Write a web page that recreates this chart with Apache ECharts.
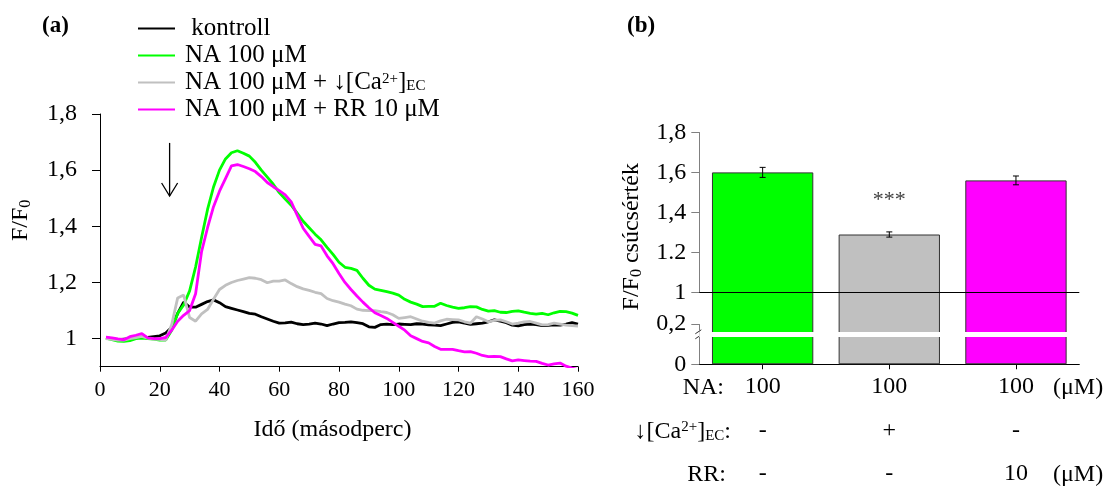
<!DOCTYPE html>
<html><head><meta charset="utf-8">
<script src="https://cdn.jsdelivr.net/npm/echarts@6/dist/echarts.min.js"></script>
<style>html,body{margin:0;padding:0;background:#fff}#c{width:1108px;height:486px}</style>
</head><body><div id="c"></div>
<script>
// ---------- data (panel a) ----------
const times = [2,4,6,8,10,12,14,16,18,20,22,24,26,28,30,32,34,36,38,40,42,44,46,48,50,52,54,56,58,60,62,64,66,68,70,72,74,76,78,80,82,84,86,88,90,92,94,96,98,100,102,104,106,108,110,112,114,116,118,120,122,124,126,128,130,132,134,136,138,140,142,144,146,148,150,152,154,156,158,160];
const kontroll = [1.003,1.0,0.996,0.998,1.0,1.003,1.005,1.004,1.007,1.01,1.02,1.04,1.09,1.13,1.112,1.112,1.122,1.132,1.138,1.128,1.114,1.108,1.102,1.096,1.09,1.087,1.078,1.07,1.062,1.055,1.056,1.059,1.053,1.05,1.052,1.055,1.052,1.046,1.052,1.057,1.058,1.06,1.057,1.053,1.042,1.04,1.05,1.052,1.05,1.052,1.051,1.05,1.053,1.052,1.049,1.048,1.046,1.052,1.058,1.06,1.055,1.051,1.053,1.055,1.06,1.067,1.062,1.057,1.048,1.045,1.05,1.052,1.05,1.046,1.047,1.049,1.048,1.052,1.057,1.052];
const na100 = [1.002,0.996,0.991,0.99,0.993,1.0,1.002,1.0,0.998,0.995,0.995,1.03,1.09,1.12,1.17,1.255,1.36,1.46,1.54,1.6,1.64,1.662,1.669,1.66,1.65,1.628,1.6,1.575,1.55,1.52,1.497,1.475,1.447,1.418,1.395,1.372,1.352,1.325,1.3,1.272,1.254,1.25,1.243,1.215,1.19,1.176,1.172,1.167,1.162,1.155,1.14,1.13,1.123,1.114,1.115,1.115,1.126,1.118,1.112,1.108,1.11,1.114,1.113,1.104,1.098,1.1,1.094,1.093,1.097,1.099,1.094,1.09,1.087,1.09,1.085,1.092,1.097,1.096,1.091,1.083];
const naLowCa = [1.0,0.997,0.995,0.995,1.0,1.004,1.008,1.002,0.998,0.997,0.995,1.05,1.145,1.155,1.075,1.062,1.088,1.104,1.14,1.175,1.19,1.2,1.207,1.212,1.217,1.215,1.21,1.199,1.205,1.205,1.209,1.196,1.185,1.177,1.172,1.165,1.16,1.143,1.135,1.13,1.123,1.117,1.105,1.101,1.1,1.1,1.096,1.093,1.085,1.072,1.075,1.078,1.07,1.062,1.058,1.055,1.063,1.069,1.068,1.067,1.06,1.055,1.078,1.07,1.06,1.065,1.067,1.06,1.052,1.055,1.06,1.061,1.055,1.049,1.05,1.055,1.052,1.048,1.046,1.045];
const naRR = [1.005,1.003,0.999,0.996,1.007,1.012,1.018,1.003,1.0,1.0,1.004,1.03,1.062,1.083,1.1,1.16,1.31,1.395,1.47,1.525,1.57,1.615,1.62,1.613,1.605,1.595,1.577,1.556,1.541,1.527,1.512,1.487,1.44,1.393,1.364,1.336,1.33,1.295,1.267,1.232,1.2,1.175,1.152,1.13,1.11,1.092,1.082,1.072,1.058,1.044,1.03,1.01,1.0,0.99,0.985,0.972,0.962,0.962,0.962,0.957,0.953,0.954,0.948,0.94,0.936,0.937,0.936,0.928,0.921,0.924,0.922,0.92,0.919,0.912,0.906,0.91,0.913,0.902,0.895,0.89];
const seriesNames = ['kontroll','NA 100 μM','NA 100 μM + ↓[Ca2+]EC','NA 100 μM + RR 10 μM'];
const leftYTicks = [1, 1.2, 1.4, 1.6, 1.8];
const arrowT = [23.3], arrowFrom = [1.697], arrowTo = [1.508];

// ---------- data (panel b) ----------
const naRow = ['100','100','100'];
const caRow = ['-','+','-'];
const rrRow = ['-','-','10'];
const peakMeans = [1.60, 1.29, 1.56];
const peakErrs = [0.025, 0.013, 0.022];
const sigMarks = ['', '***', ''];
const rightTickValues = [0, 0.2, 1, 1.2, 1.4, 1.6, 1.8];
const rightTickLabels = ['0', '0,2', '1', '1.2', '1,4', '1,6', '1,8'];

// ---------- styles ----------
const FONT = 'Liberation Serif';
const lineColors = ['#000000', '#00ff00', '#c0c0c0', '#ff00ff'];
const barColors = ['#00ff00', '#c0c0c0', '#ff00ff'];
const richSS = {
  sup: { fontSize: 15, verticalAlign: 'top', lineHeight: 18, fontFamily: FONT, fontWeight: 'normal', color: '#000' },
  sub: { fontSize: 15, verticalAlign: 'bottom', lineHeight: 18, fontFamily: FONT, fontWeight: 'normal', color: '#000' }
};
const txt = (id, x, y, text, align) => ({ id, type: 'text', x, y, silent: true,
  style: { text, align, verticalAlign: 'middle', fontFamily: FONT, fontSize: 24, fontWeight: 'normal', fill: '#000', rich: richSS } });

const chart = echarts.init(document.getElementById('c'), null, { renderer: 'canvas' });
const lineData = [kontroll, na100, naLowCa, naRR];

const option = {
  animation: false,
  backgroundColor: '#fff',
  textStyle: { fontFamily: FONT, color: '#000' },
  title: [
    { text: '(a)', left: 42, top: 15, padding: 0, textStyle: { fontFamily: FONT, fontSize: 23, fontWeight: 'bold', color: '#000' } },
    { text: '(b)', left: 627, top: 15, padding: 0, textStyle: { fontFamily: FONT, fontSize: 23, fontWeight: 'bold', color: '#000' } }
  ],
  legend: {
    data: seriesNames, left: 138, top: 16, orient: 'vertical', padding: 0,
    icon: 'rect', itemWidth: 37, itemHeight: 2, itemGap: 2,
    formatter: n => n === seriesNames[2] ? 'NA 100 μM + ↓[Ca{sup|2+}]{sub|EC}' : (n === 'kontroll' ? ' kontroll' : n),
    textStyle: { fontFamily: FONT, fontSize: 25, lineHeight: 22, color: '#000', padding: [0, 0, 0, 5], rich: richSS },
    selectedMode: false
  },
  grid: [
    { left: 100, top: 114, width: 478, height: 252.7 },
    { left: 699.3, top: 132.3, width: 380, height: 232.7 }
  ],
  xAxis: [
    { type: 'value', gridIndex: 0, min: 0, max: 160, interval: 20,
      name: 'Idő (másodperc)', nameLocation: 'middle', nameGap: 51,
      nameTextStyle: { fontFamily: FONT, fontSize: 24, color: '#000', padding: [0, 13, 0, 0] },
      axisLine: { show: true, onZero: false, lineStyle: { color: '#000', width: 1 } },
      axisTick: { show: true, inside: false, length: 5, lineStyle: { color: '#000' } },
      axisLabel: { fontFamily: FONT, fontSize: 22, color: '#000', margin: 13 },
      splitLine: { show: false } },
    { type: 'category', gridIndex: 1, data: [0, 1, 2],
      axisLine: { show: true, lineStyle: { color: '#000', width: 1 } },
      axisTick: { show: true, alignWithLabel: true, length: 5, lineStyle: { color: '#000' } },
      axisLabel: { margin: 1, interval: 0,
        formatter: (v, i) => '{v|' + naRow[i] + '}\n{v|' + caRow[i] + '}\n{v|' + rrRow[i] + '}',
        rich: { v: { fontFamily: FONT, fontSize: 24, lineHeight: 43.5, color: '#000' } } },
      splitLine: { show: false } }
  ],
  yAxis: [
    { type: 'value', gridIndex: 0, min: 0.9, max: 1.8,
      name: 'F/F{sub|0}', nameLocation: 'middle', nameGap: 66, nameRotate: 90,
      nameTextStyle: { fontFamily: FONT, fontSize: 24, color: '#000', lineHeight: 26, padding: [0, 0, 0, 40],
        rich: { sub: { fontSize: 16, verticalAlign: 'bottom', lineHeight: 26, fontFamily: FONT, color: '#000' } } },
      axisLine: { show: true, lineStyle: { color: '#000', width: 1 } },
      axisTick: { show: true, inside: false, length: 8, customValues: leftYTicks, lineStyle: { color: '#000' } },
      axisLabel: { fontFamily: FONT, fontSize: 24, color: '#000', margin: 23, customValues: leftYTicks,
        formatter: v => String(+v.toFixed(2)).replace('.', ',') },
      splitLine: { show: false } },
    { type: 'value', gridIndex: 1, min: 0, max: 1.8, interval: 0.2,
      breaks: [{ start: 0.2, end: 1, gap: '13.6%' }],
      breakArea: { show: false },
      name: 'F/F{sub|0} csúcsérték', nameLocation: 'middle', nameGap: 55, nameRotate: 90,
      nameTextStyle: { fontFamily: FONT, fontSize: 24, color: '#000', lineHeight: 26, padding: [0, 0, 0, 23],
        rich: { sub: { fontSize: 16, verticalAlign: 'bottom', lineHeight: 26, fontFamily: FONT, color: '#000' } } },
      axisLine: { show: true, lineStyle: { color: '#808080', width: 1 } },
      axisTick: { show: true, inside: false, length: 8, lineStyle: { color: '#808080' } },
      axisLabel: { fontFamily: FONT, fontSize: 24, color: '#000', margin: 13,
        formatter: v => { const i = rightTickValues.findIndex(x => Math.abs(x - v) < 1e-6); return i >= 0 ? rightTickLabels[i] : ''; } },
      splitLine: { show: false } }
  ],
  series: [
    ...lineData.map((arr, k) => ({
      name: seriesNames[k], type: 'line', xAxisIndex: 0, yAxisIndex: 0,
      data: times.map((t, i) => [t, arr[i]]),
      symbol: 'none', smooth: false,
      lineStyle: { color: lineColors[k], width: 2.8 },
      itemStyle: { color: lineColors[k] },
      z: 2 + k
    })),
    { type: 'custom', xAxisIndex: 0, yAxisIndex: 0, silent: true, z: 10,
      data: arrowT.map((t, i) => [t, arrowFrom[i], arrowTo[i]]),
      renderItem: (params, api) => {
        const p0 = api.coord([api.value(0), api.value(1)]);
        const p1 = api.coord([api.value(0), api.value(2)]);
        return { type: 'group', children: [
          { type: 'line', shape: { x1: p0[0], y1: p0[1], x2: p1[0], y2: p1[1] }, style: { stroke: '#000', lineWidth: 1.3 } },
          { type: 'polyline', shape: { points: [[p1[0] - 8, p1[1] - 13], [p1[0], p1[1]], [p1[0] + 8, p1[1] - 13]] }, style: { stroke: '#000', lineWidth: 1.3, fill: null } }
        ] };
      } },
    { type: 'bar', xAxisIndex: 1, yAxisIndex: 1, barWidth: '80%',
      data: peakMeans.map((v, i) => ({ value: v, itemStyle: { color: barColors[i], borderColor: '#333', borderWidth: 1 } })),
      markLine: { silent: true, symbol: ['none', 'none'], label: { show: false },
        data: [
          { yAxis: 1, lineStyle: { color: '#000', width: 1, type: 'solid' } },
          { yAxis: 0.147, lineStyle: { color: '#fff', width: 5, type: 'solid' } }
        ] } },
    { type: 'custom', xAxisIndex: 1, yAxisIndex: 1, silent: true, z: 6,
      data: peakMeans.map((v, i) => [i, v, peakErrs[i]]),
      renderItem: (params, api) => {
        const i = api.value(0), m = api.value(1), e = api.value(2);
        const top = api.coord([i, m + e]), bot = api.coord([i, m - e]);
        const children = [
          { type: 'line', shape: { x1: top[0], y1: top[1], x2: bot[0], y2: bot[1] }, style: { stroke: '#000', lineWidth: 1 } },
          { type: 'line', shape: { x1: top[0] - 3, y1: top[1], x2: top[0] + 3, y2: top[1] }, style: { stroke: '#000', lineWidth: 1 } },
          { type: 'line', shape: { x1: bot[0] - 3, y1: bot[1], x2: bot[0] + 3, y2: bot[1] }, style: { stroke: '#000', lineWidth: 1 } }
        ];
        if (sigMarks[i]) children.push({ type: 'text', x: top[0], y: top[1] - 32,
          style: { text: sigMarks[i], align: 'center', verticalAlign: 'middle', fontFamily: FONT, fontSize: 22, fill: '#404040' } });
        return { type: 'group', children };
      } }
  ],
  graphic: [
    txt('rNA', 724, 388, 'NA:', 'right'),
    txt('rCa', 731, 431.7, '↓[Ca{sup|2+}]{sub|EC}:', 'right'),
    txt('rRR', 726, 475, 'RR:', 'right'),
    txt('u1', 1053, 388, '(μM)', 'left'),
    txt('u2', 1053, 475, '(μM)', 'left')
  ]
};
chart.setOption(option);

// axis-break marker "//" placed through the axis scale
const yb = chart.convertToPixel({ yAxisIndex: 1 }, 0.147);
const xb = 699.3;
chart.setOption({ graphic: [
  { id: 'brk1', type: 'line', silent: true, shape: { x1: xb - 4, y1: yb - 1, x2: xb + 2, y2: yb - 5 }, style: { stroke: '#333', lineWidth: 1 } },
  { id: 'brk2', type: 'line', silent: true, shape: { x1: xb - 4, y1: yb + 4, x2: xb + 2, y2: yb }, style: { stroke: '#333', lineWidth: 1 } }
] });
</script></body></html>
